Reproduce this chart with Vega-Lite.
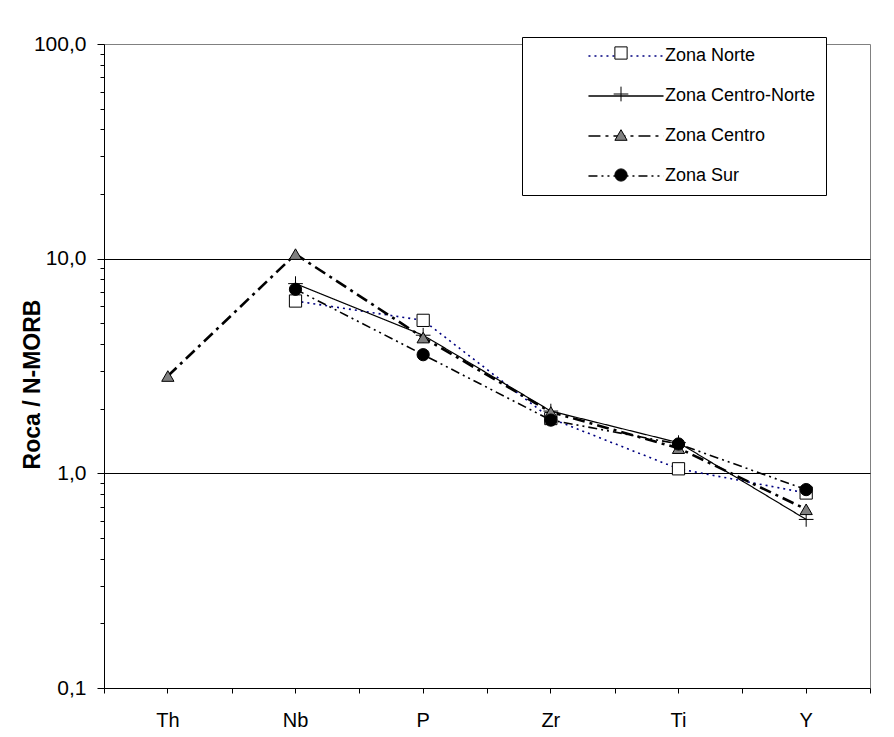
{
  "$schema": "https://vega.github.io/schema/vega-lite/v6.json",
  "width": 766,
  "height": 644,
  "autosize": "none",
  "padding": {"left": 104, "top": 44, "right": 24, "bottom": 49},
  "background": "white",
  "config": {
    "font": "Liberation Sans",
    "view": {"stroke": "#808080", "strokeWidth": 1},
    "axis": {"labelFont": "Liberation Sans", "titleFont": "Liberation Sans", "labelColor": "black", "titleColor": "black", "tickColor": "black", "domainColor": "black"},
    "legend": {"labelFont": "Liberation Sans"}
  },
  "data": {
    "values": [
      {"zona": "Zona Norte", "orden": 1, "elemento": "Nb", "valor": 6.35},
      {"zona": "Zona Norte", "orden": 1, "elemento": "P", "valor": 5.16},
      {"zona": "Zona Norte", "orden": 1, "elemento": "Zr", "valor": 1.8},
      {"zona": "Zona Norte", "orden": 1, "elemento": "Ti", "valor": 1.05},
      {"zona": "Zona Norte", "orden": 1, "elemento": "Y", "valor": 0.81},
      {"zona": "Zona Centro-Norte", "orden": 2, "elemento": "Nb", "valor": 7.65},
      {"zona": "Zona Centro-Norte", "orden": 2, "elemento": "P", "valor": 4.4},
      {"zona": "Zona Centro-Norte", "orden": 2, "elemento": "Zr", "valor": 1.95},
      {"zona": "Zona Centro-Norte", "orden": 2, "elemento": "Ti", "valor": 1.39},
      {"zona": "Zona Centro-Norte", "orden": 2, "elemento": "Y", "valor": 0.61},
      {"zona": "Zona Centro", "orden": 3, "elemento": "Th", "valor": 2.84},
      {"zona": "Zona Centro", "orden": 3, "elemento": "Nb", "valor": 10.5},
      {"zona": "Zona Centro", "orden": 3, "elemento": "P", "valor": 4.29},
      {"zona": "Zona Centro", "orden": 3, "elemento": "Zr", "valor": 1.93},
      {"zona": "Zona Centro", "orden": 3, "elemento": "Ti", "valor": 1.31},
      {"zona": "Zona Centro", "orden": 3, "elemento": "Y", "valor": 0.68},
      {"zona": "Zona Sur", "orden": 4, "elemento": "Nb", "valor": 7.2},
      {"zona": "Zona Sur", "orden": 4, "elemento": "P", "valor": 3.57},
      {"zona": "Zona Sur", "orden": 4, "elemento": "Zr", "valor": 1.77},
      {"zona": "Zona Sur", "orden": 4, "elemento": "Ti", "valor": 1.37},
      {"zona": "Zona Sur", "orden": 4, "elemento": "Y", "valor": 0.84}
    ]
  },
  "encoding": {
    "x": {
      "field": "elemento",
      "type": "nominal",
      "sort": ["Th", "Nb", "P", "Zr", "Ti", "Y"],
      "bandPosition": 0.5,
      "scale": {"type": "band", "paddingInner": 0, "paddingOuter": 0},
      "axis": {"title": null, "orient": "bottom", "labelAngle": 0, "labelFontSize": 20, "tickSize": 5, "labelPadding": 17, "grid": false}
    },
    "y": {
      "field": "valor",
      "type": "quantitative",
      "scale": {"type": "log", "domain": [0.1, 100]},
      "axis": {
        "title": "Roca / N-MORB",
        "titleFontSize": 23,
        "titleFontWeight": "bold",
        "titleX": -60,
        "titleY": 340,
        "values": [0.1, 0.2, 0.3, 0.4, 0.5, 0.6, 0.7, 0.8, 0.9, 1, 2, 3, 4, 5, 6, 7, 8, 9, 10, 20, 30, 40, 50, 60, 70, 80, 90, 100],
        "labelExpr": "(datum.value == 0.1 || datum.value == 1 || datum.value == 10 || datum.value == 100) ? replace(format(datum.value, '.1f'), '.', ',') : ''",
        "labelOverlap": false,
        "labelFlush": false,
        "labelFontSize": 21,
        "labelPadding": 11,
        "grid": true,
        "gridColor": "black",
        "gridWidth": 1.2,
        "gridOpacity": {"condition": {"test": "datum.value == 1 || datum.value == 10", "value": 1}, "value": 0},
        "tickSize": {"condition": {"test": "datum.value == 0.1 || datum.value == 1 || datum.value == 10 || datum.value == 100", "value": 7}, "value": 4}
      }
    }
  },
  "layer": [
    {
      "encoding": {
        "color": {
          "field": "zona",
          "type": "nominal",
          "scale": {"domain": ["Zona Norte", "Zona Centro-Norte", "Zona Centro", "Zona Sur"], "range": ["#000080", "black", "black", "black"]},
          "legend": {
            "orient": "none", "legendX": 418, "legendY": -7, "title": null,
            "padding": 10, "strokeColor": "black", "fillColor": "white",
            "symbolType": "M-6.13,0H6.13", "symbolSize": 150, "symbolStrokeWidth": 1.5,
            "symbolOffset": 85, "labelOffset": 30, "labelFontSize": 18, "labelColor": "black",
            "labelLimit": 400,
            "rowPadding": 22
          }
        },
        "strokeDash": {
          "field": "zona",
          "type": "nominal",
          "scale": {"domain": ["Zona Norte", "Zona Centro-Norte", "Zona Centro", "Zona Sur"], "range": [[2, 4], [1, 0], [12, 5, 3, 5], [9, 4, 2, 4, 2, 4]]}
        }
      },
      "layer": [
        {"transform": [{"filter": "datum.zona == 'Zona Norte'"}], "mark": {"type": "line", "strokeWidth": 1.6}},
        {"transform": [{"filter": "datum.zona == 'Zona Centro-Norte'"}], "mark": {"type": "line", "strokeWidth": 1.2}},
        {"transform": [{"filter": "datum.zona == 'Zona Centro'"}], "mark": {"type": "line", "strokeWidth": 2.6}},
        {"transform": [{"filter": "datum.zona == 'Zona Sur'"}], "mark": {"type": "line", "strokeWidth": 1.6}}
      ]
    },
    {
      "mark": {"type": "point", "filled": true, "strokeWidth": 1, "size": 150, "opacity": 1},
      "encoding": {
        "x": {
          "field": "elemento",
          "type": "nominal",
          "sort": ["Th", "Nb", "P", "Zr", "Ti", "Y"],
          "bandPosition": 0.5,
          "axis": {"title": null, "orient": "bottom", "labels": false, "domain": false, "tickBand": "extent", "tickSize": 5, "grid": false}
        },
        "shape": {
          "field": "zona",
          "type": "nominal",
          "sort": {"field": "orden", "op": "min"},
          "scale": {"range": ["square", "M-1.2,0H1.2M0,-1.2V1.2", "triangle-up", "circle"]},
          "legend": {
            "orient": "none", "legendX": 416, "legendY": -10, "title": null,
            "padding": 10, "symbolSize": 150, "symbolStrokeWidth": 1,
            "symbolOffset": 82, "labelOffset": 30, "labelFontSize": 18,
            "labelExpr": "''",
            "rowPadding": 22
          }
        },
        "fill": {
          "field": "zona",
          "type": "nominal",
          "sort": {"field": "orden", "op": "min"},
          "scale": {"range": ["white", "transparent", "#808080", "black"]}
        },
        "stroke": {
          "field": "zona",
          "type": "nominal",
          "sort": {"field": "orden", "op": "min"},
          "scale": {"range": ["black", "black", "black", "black"]}
        }
      }
    }
  ],
  "resolve": {"axis": {"x": "independent"}}
}
